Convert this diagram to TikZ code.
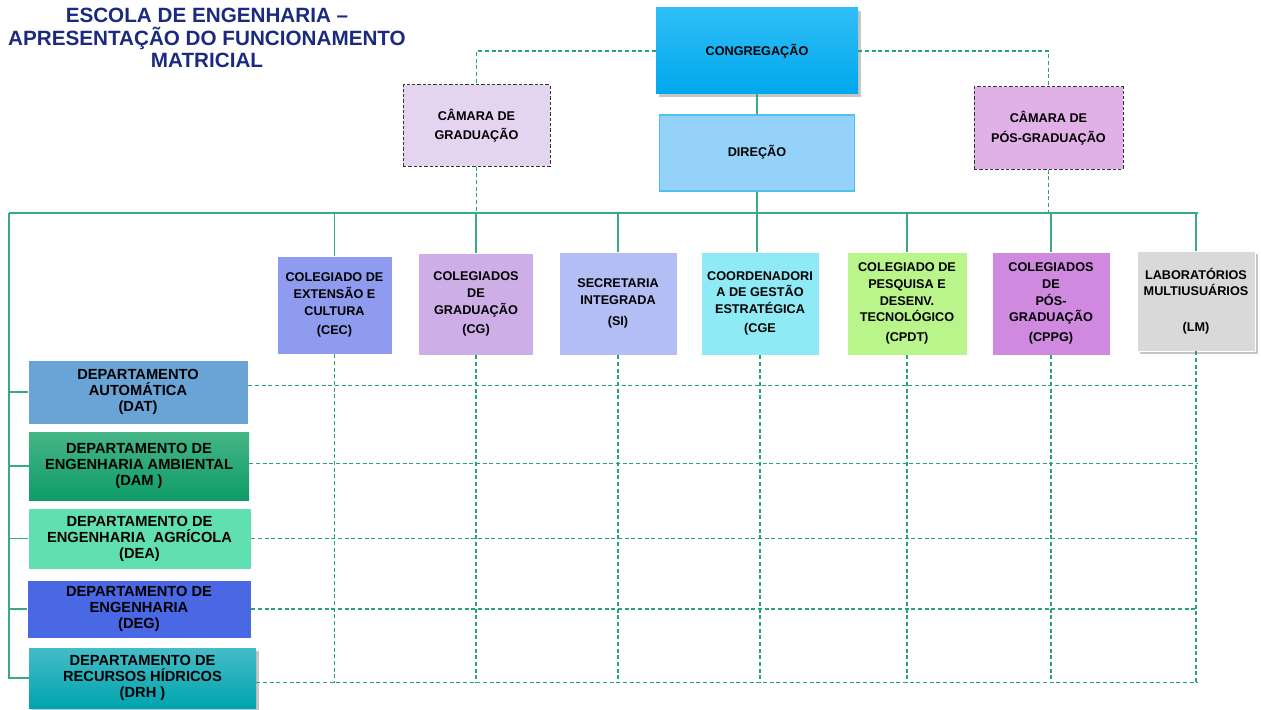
\documentclass[tikz,border=0pt]{standalone}
\usepackage{fontspec}
\setmainfont{Liberation Sans}
\usetikzlibrary{shadows}
\definecolor{lineg}{HTML}{3AAA84}
\definecolor{dashg}{HTML}{26A477}
\definecolor{titleblue}{HTML}{1B2A80}
\tikzset{
  box/.style={rectangle, draw=white, line width=0.6pt, align=center, font=\bfseries\fontsize{9.5}{12.5}\selectfont, inner sep=1pt},
  dept/.style={rectangle, draw=white, line width=0.6pt, align=center, font=\bfseries\fontsize{11}{12}\selectfont, inner sep=1pt},
  camara/.style={rectangle, draw=black!80, dashed, dash pattern=on 2.5pt off 1.5pt, line width=0.75pt, align=center, font=\bfseries\fontsize{9.5}{14.5}\selectfont},
  solidline/.style={draw=lineg, line width=0.9pt},
  dashline/.style={draw=dashg, line width=0.8pt, dash pattern=on 3pt off 2pt},
  shad/.style={drop shadow={opacity=0.45, shadow xshift=2pt, shadow yshift=-2pt}}
}
\begin{document}
\begin{tikzpicture}[x=0.75pt,y=-0.75pt]
\useasboundingbox (0,0) rectangle (1261,710);
% title
\node[align=center, text=titleblue, font=\bfseries\fontsize{15.5}{16.9}\selectfont] (title) at (207,38) {ESCOLA DE ENGENHARIA –\\APRESENTAÇÃO DO FUNCIONAMENTO\\MATRICIAL};
% top boxes
\node[box, shad, draw=none, top color={rgb,255:red,48;green,190;blue,248}, bottom color={rgb,255:red,0;green,168;blue,236}, minimum width=202*0.75pt, minimum height=86*0.75pt] (cong) at (757,51) {CONGREGAÇÃO};
\node[box, draw={rgb,255:red,80;green,190;blue,240}, line width=1pt, fill={rgb,255:red,148;green,210;blue,250}, minimum width=195*0.75pt, minimum height=76*0.75pt] (dir) at (757,153) {\raisebox{3pt}{DIREÇÃO}};
\node[camara, fill={rgb,255:red,228;green,212;blue,240}, minimum width=147*0.75pt, minimum height=81*0.75pt] (camg) at (476.5,125.5) {CÂMARA DE\\GRADUAÇÃO};
\node[camara, fill={rgb,255:red,224;green,176;blue,230}, minimum width=149*0.75pt, minimum height=82*0.75pt] (camp) at (1048.5,128) {CÂMARA DE\\PÓS-GRADUAÇÃO};
% column boxes
\node[box, fill={rgb,255:red,143;green,155;blue,238}, minimum width=115*0.75pt, minimum height=98*0.75pt] (cec) at (334.5,305) {COLEGIADO DE\\EXTENSÃO E\\CULTURA\\[2pt](CEC)};
\node[box, fill={rgb,255:red,205;green,174;blue,230}, minimum width=115*0.75pt, minimum height=102*0.75pt] (cg) at (476,304) {COLEGIADOS\\DE\\GRADUAÇÃO\\[2pt](CG)};
\node[box, fill={rgb,255:red,179;green,190;blue,244}, minimum width=118*0.75pt, minimum height=103*0.75pt] (si) at (618,303.5) {SECRETARIA\\INTEGRADA\\[3pt](SI)};
\node[box, fill={rgb,255:red,142;green,234;blue,245}, minimum width=118*0.75pt, minimum height=103*0.75pt] (cge) at (760,303.5) {COORDENADORI\\A DE GESTÃO\\ESTRATÉGICA\\[2pt](CGE};
\node[box, fill={rgb,255:red,186;green,245;blue,140}, minimum width=120*0.75pt, minimum height=103*0.75pt] (cpdt) at (907,303.5) {COLEGIADO DE\\PESQUISA E\\DESENV.\\TECNOLÓGICO\\[2pt](CPDT)};
\node[box, fill={rgb,255:red,207;green,138;blue,224}, minimum width=118*0.75pt, minimum height=103*0.75pt] (cppg) at (1051,303.5) {COLEGIADOS\\DE\\PÓS-\\GRADUAÇÃO\\[2pt](CPPG)};
\node[box, shad, fill={rgb,255:red,217;green,217;blue,217}, minimum width=118*0.75pt, minimum height=100*0.75pt] (lm) at (1196,301) {LABORATÓRIOS\\MULTIUSUÁRIOS\\[14pt](LM)};
% departments
\node[dept, fill={rgb,255:red,106;green,163;blue,213}, minimum width=220*0.75pt, minimum height=64*0.75pt] (dat) at (138,392) {DEPARTAMENTO\\AUTOMÁTICA\\(DAT)};
\node[dept, draw=none, top color={rgb,255:red,69;green,181;blue,133}, bottom color={rgb,255:red,14;green,156;blue,104}, minimum width=220*0.75pt, minimum height=68*0.75pt] (dam) at (139,466) {DEPARTAMENTO DE\\ENGENHARIA AMBIENTAL\\(DAM )};
\node[dept, fill={rgb,255:red,96;green,224;blue,176}, minimum width=223*0.75pt, minimum height=61*0.75pt] (dea) at (139.5,538.5) {DEPARTAMENTO DE\\ENGENHARIA\ \ AGRÍCOLA\\(DEA)};
\node[dept, fill={rgb,255:red,74;green,104;blue,227}, minimum width=224*0.75pt, minimum height=58*0.75pt] (deg) at (139,609) {DEPARTAMENTO DE\\ENGENHARIA\\(DEG)};
\node[dept, shad, draw=none, top color={rgb,255:red,69;green,188;blue,200}, bottom color={rgb,255:red,0;green,164;blue,174}, minimum width=227*0.75pt, minimum height=60*0.75pt] (drh) at (142.5,678) {DEPARTAMENTO DE\\RECURSOS HÍDRICOS\\(DRH )};
% coordinates
\coordinate (busL) at (9,213);
\coordinate (busR) at (1198,213);
\coordinate (gridR) at (1198,0);
\coordinate (bot) at (0,683);
% top links
\draw[dashline] (cong.west) -| (camg.north);
\draw[dashline] (cong.east) -| (camp.north);
\draw[solidline] (cong.south) -- (dir.north);
\draw[solidline] (dir.south) -- (dir.south |- busL);
\draw[dashline] (camg.south) -- (camg.south |- busL);
\draw[dashline] (camp.south) -- (camp.south |- busL);
% bus
\draw[solidline] (busL) -- (busR);
\foreach \n in {cec,cg,si,cpdt,cppg,lm}{
  \draw[solidline] (\n.north) -- (\n.north |- busL);
}
\draw[solidline] (dir.south |- busL) -- (dir.south |- cge.north);
% left spine
\draw[solidline] (busL) |- (drh.west);
\foreach \n in {dat,dam,dea,deg}{
  \draw[solidline] (busL |- \n.west) -- (\n.west);
}
% grid
\draw[dashline] ([yshift=5pt]dat.east) -- ([yshift=5pt]dat.east -| gridR);
\draw[dashline] ([yshift=2pt]dam.east) -- ([yshift=2pt]dam.east -| gridR);
\draw[dashline] (dea.east) -- (dea.east -| gridR);
\draw[dashline] (deg.east) -- (deg.east -| gridR);
\draw[dashline] ([yshift=-3.5pt]drh.east) -- ([yshift=-3.5pt]drh.east -| gridR);
\foreach \n in {cec,cg,si,cge,cpdt,cppg,lm}{
  \draw[dashline] (\n.south) -- (\n.south |- bot);
}
\end{tikzpicture}
\end{document}
